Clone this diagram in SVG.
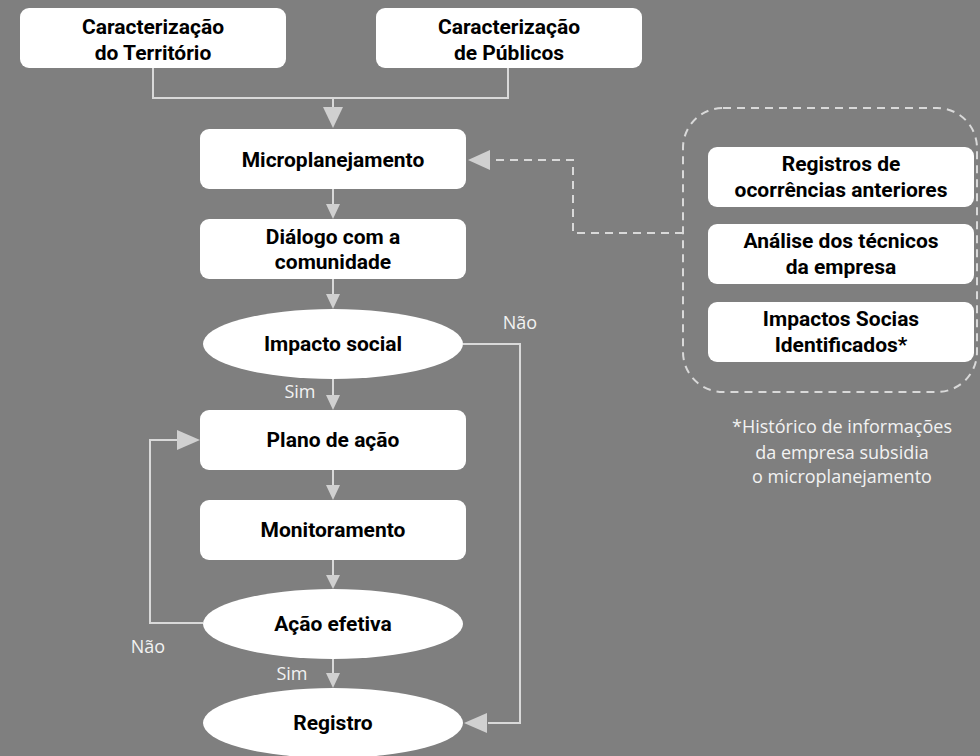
<svg xmlns="http://www.w3.org/2000/svg" width="980" height="756" viewBox="0 0 980 756">
<style>
.box{fill:#ffffff}
.t{font-family:Roboto,"Liberation Sans",sans-serif;font-weight:bold;font-size:21px;fill:#000;text-anchor:middle}
.lbl{font-family:"Open Sans","Liberation Sans",sans-serif;font-size:18px;fill:#f2f2f2;text-anchor:middle}
.note{font-family:"Open Sans","Liberation Sans",sans-serif;font-size:18px;fill:#f2f2f2;text-anchor:middle}
.ln{fill:none;stroke:#d9d9d9;stroke-width:2}
.dash{fill:none;stroke:#d9d9d9;stroke-width:2;stroke-dasharray:8 6}
.ah{fill:#d0d0d0}
</style>
<rect x="0" y="0" width="980" height="756" fill="#7f7f7f"/>
<g id="connectors">
<polyline class="ln" points="153,68 153,98 508,98 508,68"/>
<line class="ln" x1="333" y1="98" x2="333" y2="108"/>
<polygon class="ah" points="323,107 343,107 333,128"/>
<line class="ln" x1="333" y1="189" x2="333" y2="205"/>
<polygon class="ah" points="326,204 340,204 333,219"/>
<line class="ln" x1="333" y1="279" x2="333" y2="295"/>
<polygon class="ah" points="326,294 340,294 333,309"/>
<line class="ln" x1="333" y1="379" x2="333" y2="396"/>
<polygon class="ah" points="326,395 340,395 333,410"/>
<line class="ln" x1="333" y1="470" x2="333" y2="486"/>
<polygon class="ah" points="326,485 340,485 333,500"/>
<line class="ln" x1="333" y1="560" x2="333" y2="576"/>
<polygon class="ah" points="326,575 340,575 333,589"/>
<line class="ln" x1="333" y1="659" x2="333" y2="674"/>
<polygon class="ah" points="326,673 340,673 333,688"/>
<polyline class="ln" points="463,344 520,344 520,723 488,723"/>
<polygon class="ah" points="487,713 487,733 464,723"/>
<polyline class="ln" points="203,623 150,623 150,440 178,440"/>
<polygon class="ah" points="177,430 177,450 200,440"/>
<polyline class="dash" points="683,233 573,233 573,160 492,160"/>
<polygon class="ah" points="490,150 490,170 468,160"/>
</g>
<g id="n-territorio">
<rect class="box" x="20" y="8" width="266" height="60" rx="9"/>
<text class="t" x="153" y="34">Caracterização</text>
<text class="t" x="153" y="60">do Território</text>
</g>
<g id="n-publicos">
<rect class="box" x="376" y="8" width="266" height="60" rx="9"/>
<text class="t" x="509" y="34">Caracterização</text>
<text class="t" x="509" y="60">de Públicos</text>
</g>
<g id="n-micro">
<rect class="box" x="200" y="129" width="266" height="60" rx="9"/>
<text class="t" x="333" y="167">Microplanejamento</text>
</g>
<g id="n-dialogo">
<rect class="box" x="200" y="219" width="266" height="60" rx="9"/>
<text class="t" x="333" y="244">Diálogo com a</text>
<text class="t" x="333" y="269">comunidade</text>
</g>
<g id="n-impacto">
<ellipse class="box" cx="333" cy="344" rx="130" ry="35"/>
<text class="t" x="333" y="351">Impacto social</text>
</g>
<g id="n-plano">
<rect class="box" x="200" y="410" width="266" height="60" rx="9"/>
<text class="t" x="333" y="447">Plano de ação</text>
</g>
<g id="n-monit">
<rect class="box" x="200" y="500" width="266" height="60" rx="9"/>
<text class="t" x="333" y="537">Monitoramento</text>
</g>
<g id="n-acao">
<ellipse class="box" cx="333" cy="624" rx="130" ry="35"/>
<text class="t" x="333" y="631">Ação efetiva</text>
</g>
<g id="n-registro">
<ellipse class="box" cx="333" cy="723" rx="130" ry="35"/>
<text class="t" x="333" y="730">Registro</text>
</g>
<g id="n-grupo">
<rect class="dash" x="683" y="108" width="294" height="284" rx="40"/>
</g>
<g id="n-registros">
<rect class="box" x="708" y="147" width="266" height="60" rx="9"/>
<text class="t" x="841" y="171">Registros de</text>
<text class="t" x="841" y="197">ocorrências anteriores</text>
</g>
<g id="n-analise">
<rect class="box" x="708" y="224" width="266" height="60" rx="9"/>
<text class="t" x="841" y="248">Análise dos técnicos</text>
<text class="t" x="841" y="274">da empresa</text>
</g>
<g id="n-impactos">
<rect class="box" x="708" y="302" width="266" height="60" rx="9"/>
<text class="t" x="841" y="326">Impactos Socias</text>
<text class="t" x="841" y="352">Identificados*</text>
</g>
<g id="labels">
<text class="lbl" x="520" y="329">Não</text>
<text class="lbl" x="300" y="398">Sim</text>
<text class="lbl" x="148" y="653">Não</text>
<text class="lbl" x="292" y="680">Sim</text>
</g>
<g id="note">
<text class="note" x="842" y="433">*Histórico de informações</text>
<text class="note" x="842" y="459">da empresa subsidia</text>
<text class="note" x="842" y="483">o microplanejamento</text>
</g>
</svg>
